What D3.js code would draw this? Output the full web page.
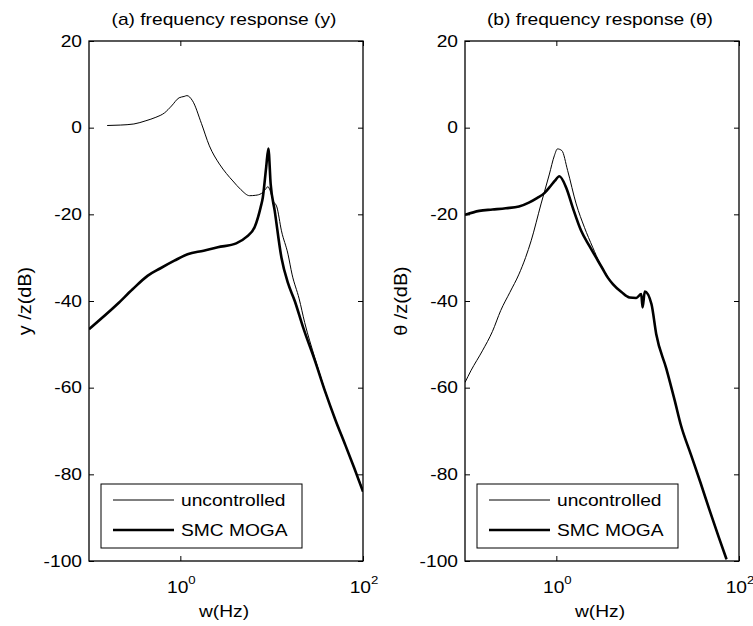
<!DOCTYPE html>
<html>
<head>
<meta charset="utf-8">
<script src="https://cdn.jsdelivr.net/npm/d3@7"></script>
<style>
  body { margin: 0; background: #fff; }
  text { font-family: "Liberation Sans", Arial, sans-serif; fill: #000; }
</style>
</head>
<body>
<script>
// ---- data ----
var titles = ["(a) frequency response (y)", "(b) frequency response (\u03b8)"];
var yLabels = ["y /z(dB)", "\u03b8 /z(dB)"];
var seriesNames = ["uncontrolled", "SMC MOGA"];
var yTicks = [20, 0, -20, -40, -60, -80, -100];
var xTicks = [1, 100];
var xTickExp = ["0", "2"];

// panel (a): y response
var yUncFreq = [0.158, 0.22, 0.31, 0.42, 0.54, 0.67, 0.8, 0.97, 1.1, 1.18, 1.36, 1.7, 2.08, 2.68, 3.2, 3.76, 4.6, 5.73, 6.7, 7.7, 8.5, 9.1, 9.6, 10.4, 11.4, 12.8, 15.1, 16.7, 20, 23, 29.6, 38.2, 50, 63.4, 80, 100];
var yUncDb   = [0.5, 0.6, 0.85, 1.6, 2.4, 3.4, 5, 6.9, 7.2, 7.4, 6.2, 1, -4.2, -8.4, -10.6, -12.3, -14.3, -15.7, -15.6, -15.2, -14.3, -13.6, -14.5, -16.9, -18.3, -23.8, -29.2, -33.8, -39.5, -45, -53, -60.5, -67.5, -73, -78.5, -83.6];
var ySmcFreq = [0.1, 0.205, 0.3, 0.437, 0.6, 0.86, 1.2, 1.8, 2.57, 4.09, 5.3, 6.5, 7.57, 8.0, 8.7, 9.2, 9.75, 10.8, 12.8, 15.1, 17.9, 22.1, 30, 38.2, 50, 63.4, 80, 100];
var ySmcDb   = [-46.5, -40.7, -37.3, -34.2, -32.5, -30.7, -29.2, -28.4, -27.6, -26.7, -25.2, -23, -18.4, -16.1, -9.2, -4.8, -13, -19.2, -30, -35.9, -40, -46.1, -54, -60.7, -67.5, -73, -78.5, -84];

// panel (b): theta response
var tUncFreq = [0.1, 0.116, 0.155, 0.2, 0.246, 0.31, 0.39, 0.46, 0.53, 0.68, 0.84, 0.95, 1.03, 1.15, 1.33, 1.65, 2.03, 2.5, 3.0, 3.66, 4.16, 5.2, 6.34, 7.5, 8.5, 8.8, 9.3, 11, 12.4, 16, 19.8, 23, 29.7, 38, 48, 60, 73];
var tUncDb   = [-58.8, -56.1, -51.5, -47, -42.2, -38, -33.8, -30, -26.1, -17.6, -10.7, -6.5, -4.9, -5.3, -9.9, -17.6, -23, -27.6, -31.3, -34.4, -36.1, -38, -39.2, -39.3, -38.4, -41.5, -37.8, -40.7, -47.6, -55.6, -63, -68.5, -75.4, -82, -88.5, -94.5, -99.6];
var tSmcFreq = [0.1, 0.143, 0.2, 0.28, 0.39, 0.5, 0.62, 0.74, 0.84, 0.96, 1.08, 1.28, 1.51, 1.87, 2.3, 2.73, 3.2, 3.66, 4.16, 5.2, 6.34, 7.5, 8.5, 8.8, 9.3, 11, 12.4, 16, 19.8, 23, 29.7, 38, 48, 60, 73];
var tSmcDb   = [-20.1, -19.2, -18.9, -18.6, -18.2, -17.3, -16.2, -15.1, -13.8, -12.3, -11.2, -13.8, -18.4, -23.8, -27.3, -30, -32.5, -34.6, -36.1, -38, -39.2, -39.3, -38.4, -41.5, -37.8, -40.7, -47.6, -55.6, -63, -68.5, -75.4, -82, -88.5, -94.5, -99.6];

var panels = [
  { left: 89, unc: [yUncFreq, yUncDb], smc: [ySmcFreq, ySmcDb] },
  { left: 465, unc: [tUncFreq, tUncDb], smc: [tSmcFreq, tSmcDb] }
];

var W = 753, H = 626;
var plotW = 274, plotTop = 41, plotBottom = 561;
var sx = 1.2; // glyphs in the picture are wider than Arial

var svg = d3.select("body").append("svg")
  .attr("width", W)
  .attr("height", H);

var y = d3.scaleLinear().domain([-100, 20]).range([plotBottom, plotTop]);

panels.forEach(function(p, i) {
  var x = d3.scaleLog().domain([0.1, 100]).range([p.left, p.left + plotW]);
  var g = svg.append("g");

  g.append("clipPath").attr("id", "clip" + i)
    .append("rect")
      .attr("x", p.left).attr("y", plotTop)
      .attr("width", plotW).attr("height", plotBottom - plotTop);

  // curves
  var line = d3.line()
    .x(function(d) { return x(d[0]); })
    .y(function(d) { return y(d[1]); })
    .curve(d3.curveMonotoneX);

  var unc = d3.zip(p.unc[0], p.unc[1]);
  var smc = d3.zip(p.smc[0], p.smc[1]);

  g.append("path")
    .datum(unc)
    .attr("clip-path", "url(#clip" + i + ")")
    .attr("fill", "none")
    .attr("stroke", "#000")
    .attr("stroke-width", 1)
    .attr("d", line);

  g.append("path")
    .datum(smc)
    .attr("clip-path", "url(#clip" + i + ")")
    .attr("fill", "none")
    .attr("stroke", "#000")
    .attr("stroke-width", 2.6)
    .attr("stroke-linejoin", "round")
    .attr("d", line);

  // ticks (inward, both sides, MATLAB style)
  g.append("g")
    .attr("transform", "translate(" + p.left + ",0)")
    .call(d3.axisLeft(y).tickValues(yTicks).tickSizeInner(-5).tickSizeOuter(0).tickFormat(""))
    .call(function(a) { a.select(".domain").remove(); });
  g.append("g")
    .attr("transform", "translate(" + (p.left + plotW) + ",0)")
    .call(d3.axisRight(y).tickValues(yTicks).tickSizeInner(-5).tickSizeOuter(0).tickFormat(""))
    .call(function(a) { a.select(".domain").remove(); });
  g.append("g")
    .attr("transform", "translate(0," + plotBottom + ")")
    .call(d3.axisBottom(x).tickValues(xTicks).tickSizeInner(-5).tickSizeOuter(0).tickFormat(""))
    .call(function(a) { a.select(".domain").remove(); });
  g.append("g")
    .attr("transform", "translate(0," + plotTop + ")")
    .call(d3.axisTop(x).tickValues(xTicks).tickSizeInner(-5).tickSizeOuter(0).tickFormat(""))
    .call(function(a) { a.select(".domain").remove(); });

  // box
  g.append("rect")
    .attr("x", p.left).attr("y", plotTop)
    .attr("width", plotW).attr("height", plotBottom - plotTop)
    .attr("fill", "none")
    .attr("stroke", "#000")
    .attr("stroke-width", 1.3);

  // y tick labels
  g.selectAll(".ylab")
    .data(yTicks)
    .enter().append("text")
      .attr("transform", function(d) { return "translate(" + (p.left - 7) + "," + (y(d) + 5.5) + ") scale(" + sx + ",1)"; })
      .attr("text-anchor", "end")
      .style("font-size", "16px")
      .text(function(d) { return d; });

  // x tick labels 10^n
  g.selectAll(".xlab")
    .data(xTicks)
    .enter().append("text")
      .attr("transform", function(d) { return "translate(" + (x(d) + 1) + "," + (plotBottom + 32) + ") scale(" + sx + ",1)"; })
      .attr("text-anchor", "middle")
      .style("font-size", "16px")
      .each(function(d, k) {
        var t = d3.select(this);
        t.append("tspan").text("10");
        t.append("tspan").attr("dy", -9).style("font-size", "11px").text(xTickExp[k]);
      });

  // x label
  g.append("text")
    .attr("transform", "translate(" + (p.left + plotW / 2 - 2) + "," + 617 + ") scale(" + sx + ",1)")
    .attr("text-anchor", "middle")
    .style("font-size", "16px")
    .text("w(Hz)");

  // y label
  g.append("text")
    .attr("transform", "translate(" + (p.left - 58) + "," + ((plotTop + plotBottom) / 2) + ") rotate(-90) scale(1.24,1.15)")
    .attr("text-anchor", "middle")
    .style("font-size", "16px")
    .text(yLabels[i]);

  // title
  g.append("text")
    .attr("transform", "translate(" + (p.left + plotW / 2 - 2) + "," + 25 + ") scale(" + sx + ",1)")
    .attr("text-anchor", "middle")
    .style("font-size", "16px")
    .text(titles[i]);

  // legend
  var lg = g.append("g").attr("transform", "translate(" + (p.left + 12) + ",484)");
  lg.append("rect")
    .attr("width", 201).attr("height", 64)
    .attr("fill", "#fff")
    .attr("stroke", "#000")
    .attr("stroke-width", 1);
  var widths = [1, 2.6];
  seriesNames.forEach(function(name, k) {
    var ly = 16 + k * 30;
    lg.append("line")
      .attr("x1", 12).attr("x2", 73)
      .attr("y1", ly).attr("y2", ly)
      .attr("stroke", "#000")
      .attr("stroke-width", widths[k]);
    lg.append("text")
      .attr("transform", "translate(80," + (ly + 6) + ") scale(" + sx + ",1)")
      .style("font-size", "16px")
      .text(name);
  });
});
</script>
</body>
</html>
